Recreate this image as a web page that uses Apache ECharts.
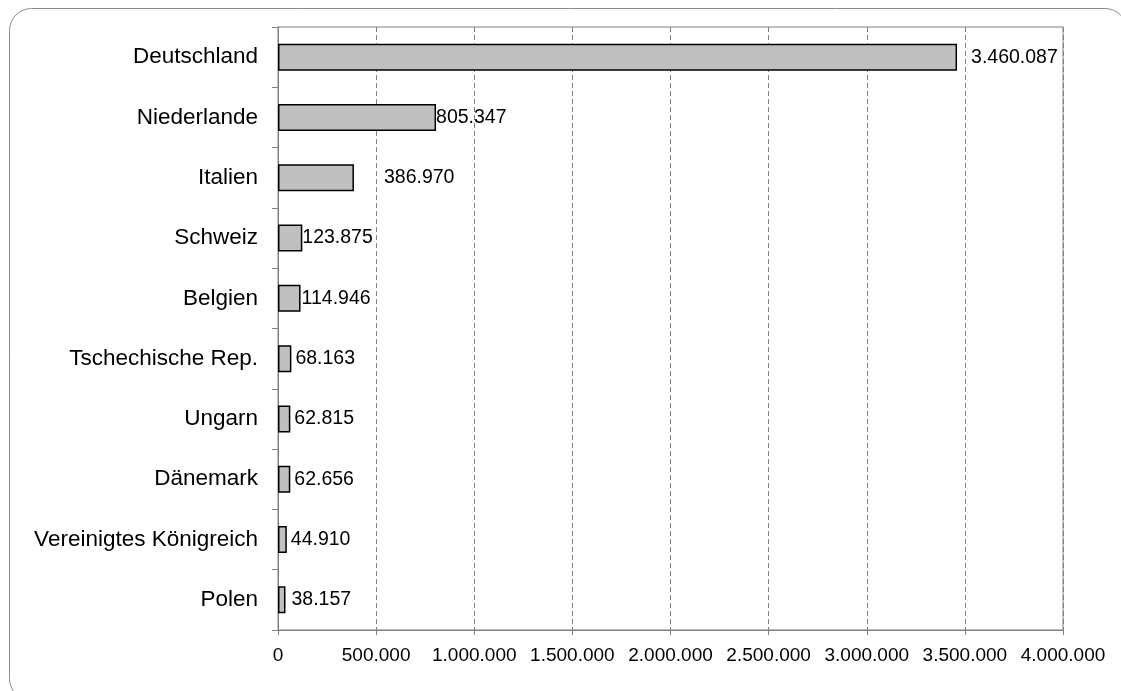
<!DOCTYPE html>
<html>
<head>
<meta charset="utf-8">
<script src="https://cdn.jsdelivr.net/npm/echarts@6/dist/echarts.min.js"></script>
<style>
  html, body { margin: 0; padding: 0; background: #ffffff; }
  #chart { width: 1121px; height: 691px; }
</style>
</head>
<body>
<div id="chart"></div>
<script>
// Countries, top to bottom
const countries = [
  'Deutschland', 'Niederlande', 'Italien', 'Schweiz', 'Belgien',
  'Tschechische Rep.', 'Ungarn', 'Dänemark', 'Vereinigtes Königreich', 'Polen'
];
// Values per country
const values = [3460087, 805347, 386970, 123875, 114946, 68163, 62815, 62656, 44910, 38157];

// Value axis range and step
const axisMin = 0;
const axisMax = 4000000;
const axisStep = 500000;

// Gap between bar end and its value label (px)
const labelGap = [14, 0, 30, 0, 1, 4, 4, 4, 4, 6];

// German thousands separator
function fmt(v) {
  return String(Math.round(v)).replace(/\B(?=(\d{3})+(?!\d))/g, '.');
}

const chart = echarts.init(document.getElementById('chart'), null, { renderer: 'canvas' });

const font = '"Liberation Sans", Arial, sans-serif';

chart.setOption({
  animation: false,
  backgroundColor: '#ffffff',
  graphic: [{
    type: 'rect',
    shape: { x: 9.5, y: 8.5, width: 1117.5, height: 692, r: 22 },
    style: { fill: 'none', stroke: '#8c8c8c', lineWidth: 1 },
    silent: true
  }],
  grid: {
    left: 278, top: 27, right: 58, bottom: 61,
    show: true, borderColor: '#808080', borderWidth: 1,
    backgroundColor: 'transparent'
  },
  xAxis: {
    type: 'value',
    min: axisMin, max: axisMax, interval: axisStep,
    axisLine: { show: true, lineStyle: { color: '#808080', width: 1 } },
    axisTick: { show: true, length: 5, lineStyle: { color: '#808080' } },
    splitLine: { show: true, lineStyle: { color: '#808080', type: [5, 3], width: 1 } },
    axisLabel: {
      color: '#000', fontFamily: font, fontSize: 19, margin: 16,
      formatter: v => fmt(v)
    }
  },
  yAxis: {
    type: 'category',
    data: countries,
    inverse: true,
    axisLine: { show: true, lineStyle: { color: '#808080', width: 1 } },
    axisTick: { show: true, length: 6, lineStyle: { color: '#808080' } },
    axisLabel: { color: '#000', fontFamily: font, fontSize: 22.5, margin: 20 }
  },
  series: [{
    type: 'bar',
    barWidth: 27,
    data: values.map((v, i) => ({
      value: v,
      label: { distance: labelGap[i] }
    })),
    itemStyle: { color: '#c0c0c0', borderColor: '#000', borderWidth: 1.5 },
    label: {
      show: true, position: 'right', color: '#000',
      fontFamily: font, fontSize: 19.5,
      formatter: p => fmt(p.value)
    }
  }]
});
</script>
</body>
</html>
